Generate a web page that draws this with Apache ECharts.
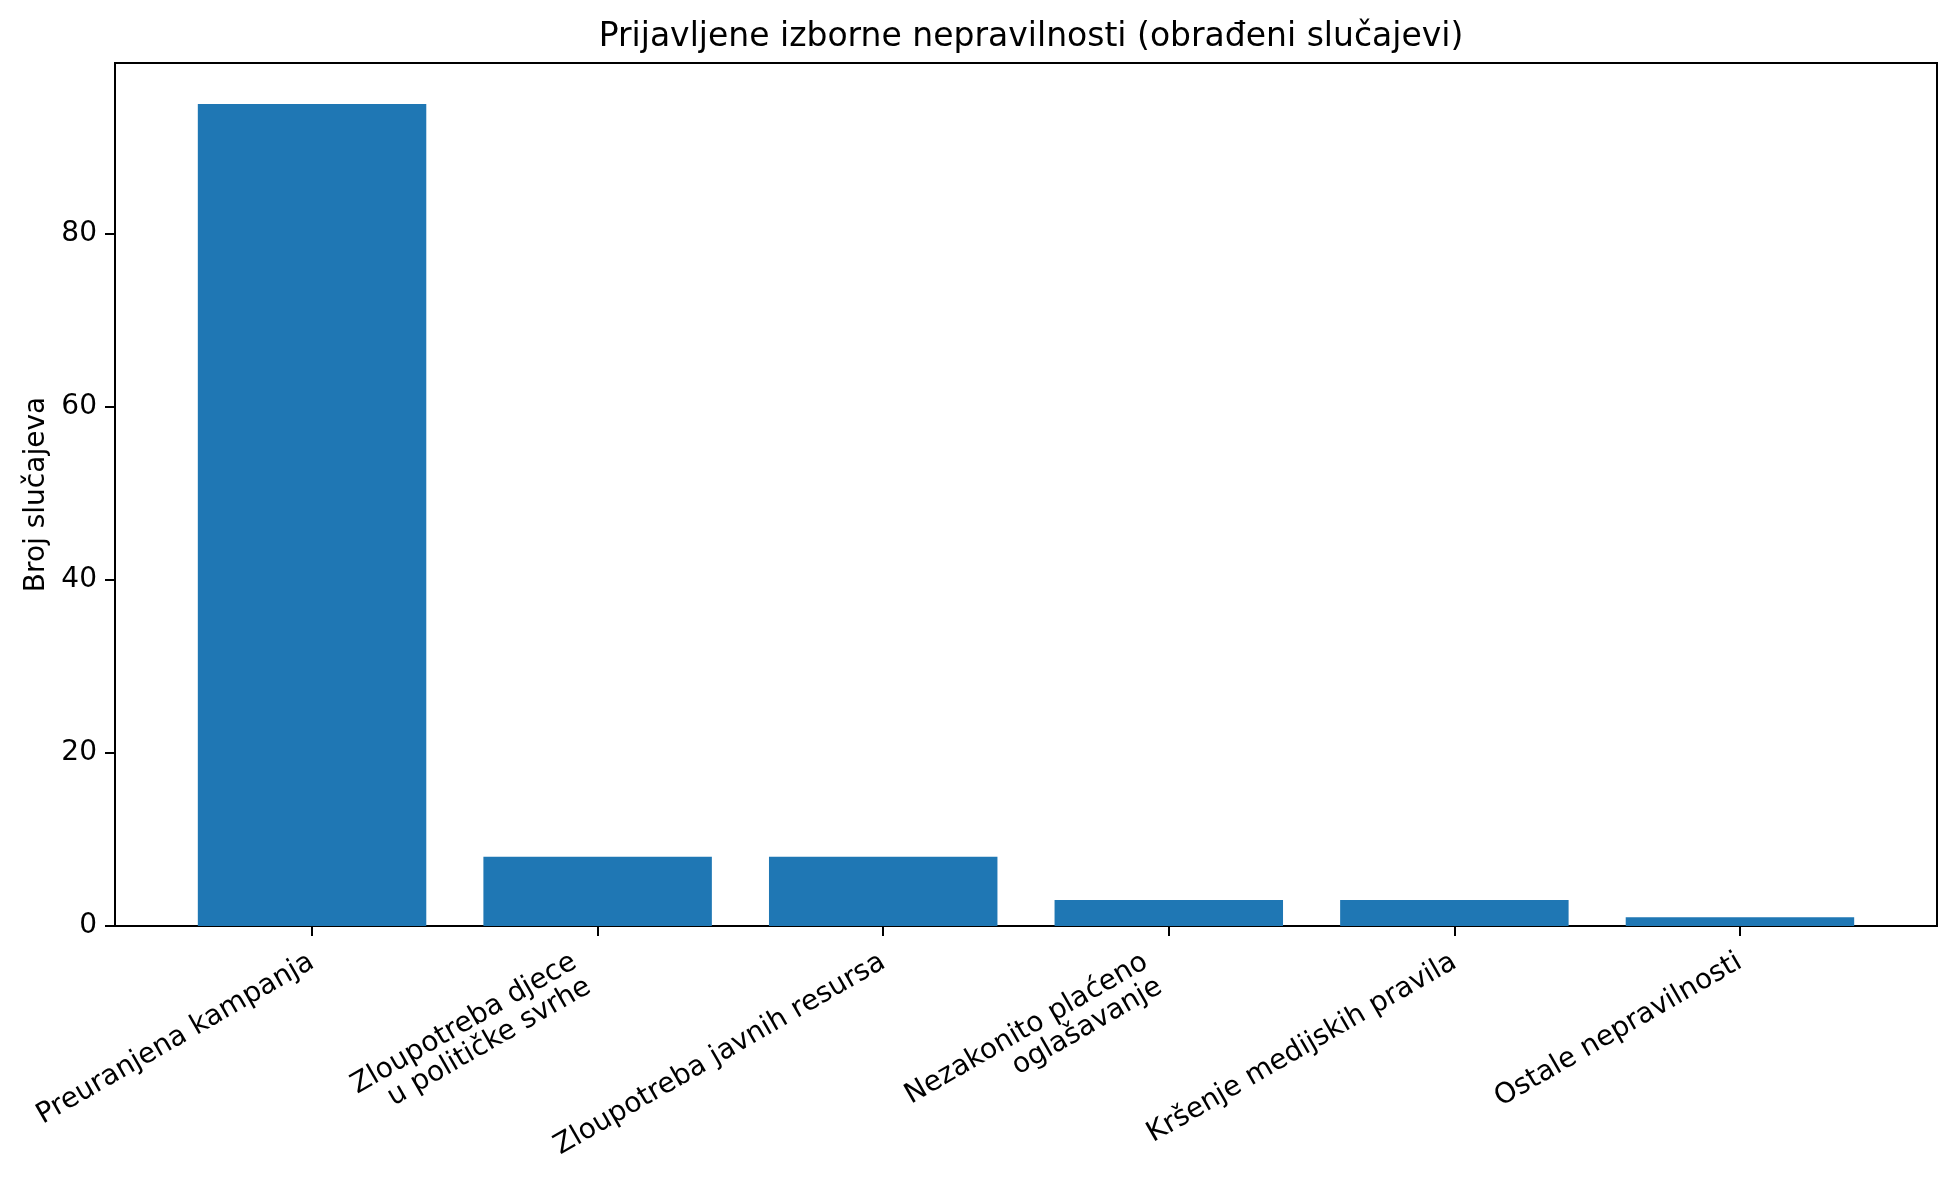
<!DOCTYPE html>
<html>
<head>
<meta charset="utf-8">
<script src="https://cdn.jsdelivr.net/npm/echarts@6/dist/echarts.min.js"></script>
<style>
    html, body { margin: 0; padding: 0; background: #fff; }
    #chart { width: 1956px; height: 1178px; }
</style>
</head>
<body>
<div id="chart"></div>
<script>
// podaci
var categories = [
    'Preuranjena kampanja',
    'Zloupotreba djece\nu političke svrhe',
    'Zloupotreba javnih resursa',
    'Nezakonito plaćeno\noglašavanje',
    'Kršenje medijskih pravila',
    'Ostale nepravilnosti'
];
var caseCounts = [95, 8, 8, 3, 3, 1];
var yTicks = [0, 20, 40, 60, 80];
var xTicks = [0, 1, 2, 3, 4, 5];

var font = 'DejaVu Sans';
var labelText = { fontFamily: font, fontSize: 28, lineHeight: 34, color: '#000' };
var chart = echarts.init(document.getElementById('chart'));

// dvoredni natpisi: pomak ulijevo/dolje kao kod matplotliba
function xLabel(v) {
    var lines = categories[Math.round(v)].split('\n');
    if (lines.length === 1) {
        return '{s|' + lines[0] + '}';
    }
    return lines.map(function (l, i) {
        return (i === 0 ? '{m1|' : '{m2|') + l + '}';
    }).join('\n');
}

chart.setOption({
    animation: false,
    title: {
        text: 'Prijavljene izborne nepravilnosti (obrađeni slučajevi)',
        left: 1026,
        textAlign: 'center',
        top: 16,
        textStyle: { fontFamily: font, fontSize: 33, fontWeight: 'normal', color: '#000' }
    },
    grid: {
        left: 115,
        right: 19,
        top: 63,
        bottom: 252,
        show: true,
        borderColor: '#000',
        borderWidth: 2
    },
    xAxis: {
        type: 'value',
        min: -0.69,
        max: 5.69,
        splitLine: { show: false },
        axisLine: { show: true, onZero: false, lineStyle: { color: '#000', width: 2 } },
        axisTick: { show: true, length: 10, lineStyle: { color: '#000', width: 2 }, customValues: xTicks },
        axisLabel: {
            customValues: xTicks,
            rotate: 30,
            margin: 34,
            align: 'right',
            verticalAlign: 'middle',
            fontFamily: font,
            fontSize: 28,
            lineHeight: 34,
            color: '#000',
            formatter: xLabel,
            rich: {
                s: labelText,
                m1: Object.assign({ padding: [11, 20, 0, 0] }, labelText),
                m2: Object.assign({ padding: [0, 20, 0, 0] }, labelText)
            }
        }
    },
    yAxis: {
        type: 'value',
        min: 0,
        max: 99.75,
        name: 'Broj slučajeva',
        nameLocation: 'middle',
        nameGap: 63,
        nameTextStyle: { fontFamily: font, fontSize: 28, color: '#000' },
        splitLine: { show: false },
        axisLine: { show: true, onZero: false, lineStyle: { color: '#000', width: 2 } },
        axisTick: { show: true, length: 10, lineStyle: { color: '#000', width: 2 }, customValues: yTicks },
        axisLabel: {
            customValues: yTicks,
            margin: 18,
            fontFamily: font,
            fontSize: 28,
            color: '#000'
        }
    },
    series: [{
        type: 'bar',
        barWidth: '80%',
        data: caseCounts.map(function (v, i) { return [i, v]; }),
        itemStyle: { color: '#1f77b4' }
    }]
});
</script>
</body>
</html>
